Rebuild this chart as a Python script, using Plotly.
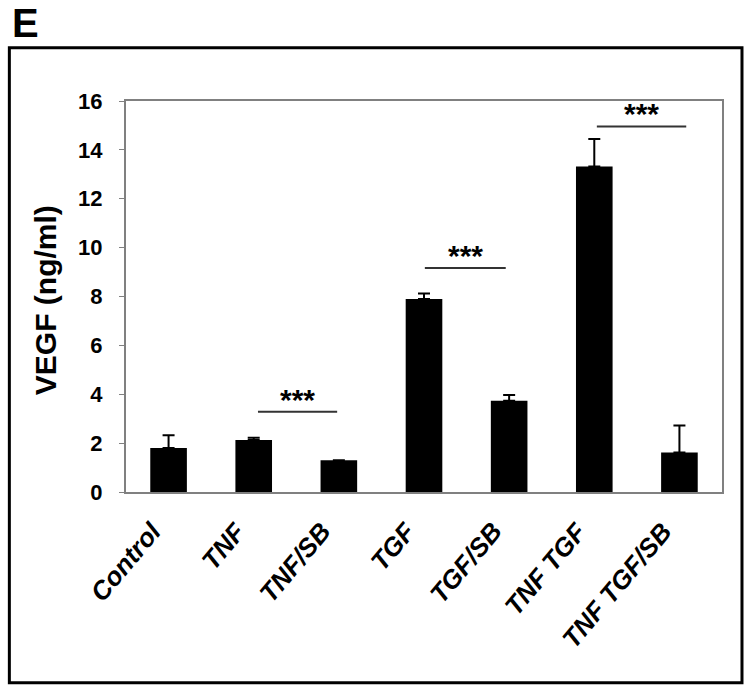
import plotly.graph_objects as go

categories = ["Control", "TNF", "TNF/SB", "TGF", "TGF/SB", "TNF TGF", "TNF TGF/SB"]
vegf_mean = [1.80, 2.13, 1.30, 7.90, 3.73, 13.32, 1.62]
vegf_err = [0.52, 0.09, 0.0, 0.22, 0.24, 1.12, 1.10]
y_ticks = [0, 2, 4, 6, 8, 10, 12, 14, 16]

sig_start = [1.05, 3.01, 5.03]
sig_end = [1.98, 3.96, 6.08]
sig_y = [3.28, 9.17, 14.96]
sig_text = ["***", "***", "***"]

W, H = 750, 691
L, R, T, B = 125.7, 722.0, 101.0, 492.3   # plot area in window pixels


def px_x(x):
    return (x - L) / (R - L)


def px_y(y):
    return (B - y) / (B - T)


fig = go.Figure()
fig.add_trace(go.Bar(
    x=list(range(len(categories))),
    y=vegf_mean,
    width=0.43,
    marker=dict(color="black", line=dict(width=0)),
    error_y=dict(type="data", symmetric=False, array=vegf_err,
                 arrayminus=[0] * len(vegf_err),
                 color="black", thickness=2, width=6),
    showlegend=False,
))

shapes = []
annotations = []
for x0, x1, y, txt in zip(sig_start, sig_end, sig_y, sig_text):
    shapes.append(dict(type="line", xref="x", yref="y", x0=x0, x1=x1, y0=y, y1=y,
                       line=dict(color="#333333", width=2)))
    annotations.append(dict(x=(x0 + x1) / 2, y=y, xref="x", yref="y", text=txt,
                            showarrow=False, yanchor="bottom", yshift=-6,
                            font=dict(family="Liberation Sans", size=30, color="black", weight="bold")))

# category labels, rotated
for i, c in enumerate(categories):
    annotations.append(dict(x=i, y=px_y(514), xref="x", yref="paper", text=c,
                            showarrow=False, textangle=-50, xanchor="right", yanchor="top",
                            xshift=1,
                            font=dict(family="Liberation Sans", size=26, color="black",
                                      weight="bold", style="italic")))

# outer frame
shapes.append(dict(type="rect", xref="paper", yref="paper",
                   x0=px_x(9), x1=px_x(742), y0=px_y(683.3), y1=px_y(47.7),
                   line=dict(color="black", width=3), layer="below"))

annotations.append(dict(x=px_x(10), y=px_y(-1), xref="paper", yref="paper", text="E",
                        showarrow=False, xanchor="left", yanchor="top",
                        font=dict(family="Liberation Sans", size=40, color="black", weight="bold")))
annotations.append(dict(x=px_x(46), y=px_y(300), xref="paper", yref="paper",
                        text="VEGF (ng/ml)", textangle=-90, showarrow=False,
                        xanchor="center", yanchor="middle",
                        font=dict(family="Liberation Sans", size=30, color="black", weight="bold")))

fig.update_layout(
    width=W, height=H,
    margin=dict(l=L, r=W - R, t=T, b=H - B, autoexpand=False),
    paper_bgcolor="white", plot_bgcolor="white",
    shapes=shapes, annotations=annotations,
)
fig.update_xaxes(
    range=[-0.5, len(categories) - 0.5],
    tickmode="array", tickvals=list(range(len(categories))), ticktext=[""] * len(categories),
    ticks="", showgrid=False, zeroline=False,
    showline=True, mirror=True, linecolor="#808080", linewidth=2,
)
fig.update_yaxes(
    range=[0, 16], tickvals=y_ticks, ticks="outside", ticklen=5, tickcolor="#808080",
    showgrid=False, zeroline=False,
    showline=True, mirror=True, linecolor="#808080", linewidth=2,
    tickfont=dict(family="Liberation Sans", size=22, color="black", weight="bold"),
    ticklabelstandoff=12,
)

fig.write_html("out.html", config={"displayModeBar": False},
               post_script="document.body.style.margin='0';document.body.style.overflow='hidden';")
